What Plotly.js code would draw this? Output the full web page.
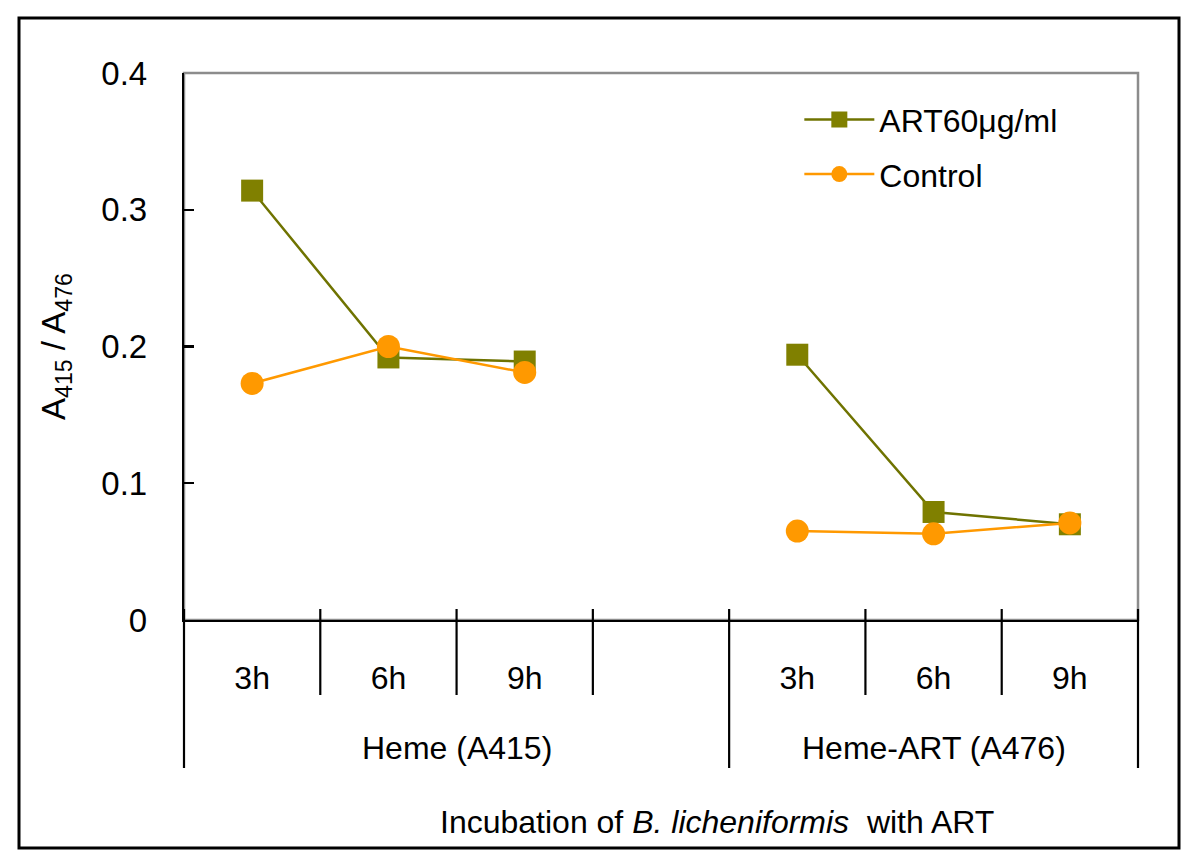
<!DOCTYPE html>
<html>
<head>
<meta charset="utf-8">
<script src="https://cdn.plot.ly/plotly-3.0.1.min.js"></script>
<style>html,body{margin:0;padding:0;background:#fff;}#chart{width:1200px;height:868px;}</style>
</head>
<body>
<div id="chart"></div>
<script>
// ---- data ----
const groups = ["Heme (A415)", "Heme (A415)", "Heme (A415)", "Heme (A415)",
                "Heme-ART (A476)", "Heme-ART (A476)", "Heme-ART (A476)"];
const times = ["3h", "6h", "9h", "", "3h", "6h", "9h"];
const artValues = [0.314, 0.192, 0.189, null, 0.194, 0.079, 0.070];
const controlValues = [0.173, 0.200, 0.181, null, 0.065, 0.063, 0.071];
const seriesNames = ["ART60μg/ml", "Control"];
const yTicks = [0, 0.1, 0.2, 0.3, 0.4];
const yTickText = ["0", "0.1", "0.2", "0.3", "0.4"];
const xTitle = "Incubation of <i>B. licheniformis</i>  with ART";
const yTitle = "A<sub>415</sub> / A<sub>476</sub>";

const FONT = "Liberation Sans, Arial, sans-serif";
const nCats = times.length;
const catKeys = times.map((t, i) => groups[i] + " | " + (t || "blank") + " #" + i);
const pxH = 868 - 73 - 248; // plot height in px
function py(px) { return px / pxH; } // px offset -> paper units (vertical)

// group spans
const groupStarts = [0];
for (let i = 1; i < nCats; i++) if (groups[i] !== groups[i - 1]) groupStarts.push(i);
groupStarts.push(nCats);

const shapes = [];
// plot-area frame (gray top/right)
shapes.push({type: "rect", xref: "paper", yref: "paper", x0: 0, x1: 1, y0: 0, y1: 1,
  line: {color: "#8c8c8c", width: 2.5}, layer: "below"});
// category boundary ticks & group dividers
for (let i = 0; i <= nCats; i++) {
  const isDiv = groupStarts.includes(i);
  shapes.push({type: "line", xref: "paper", yref: "paper",
    x0: i / nCats, x1: i / nCats, y0: py(11), y1: isDiv ? -py(148) : -py(75),
    line: {color: "#000", width: 2.2}});
}
// outer frame
shapes.push({type: "rect", xref: "paper", yref: "paper",
  x0: (19 - 184) / 954, x1: (1179 - 184) / 954, y0: -py(848 - 620), y1: py(620 - 18),
  line: {color: "#000", width: 3}});

const annotations = [];
for (let g = 0; g < groupStarts.length - 1; g++) {
  const a = groupStarts[g], b = groupStarts[g + 1];
  annotations.push({xref: "x", yref: "paper", x: (a + b - 1) / 2, y: -py(128),
    xanchor: "center", yanchor: "middle", showarrow: false,
    text: groups[a], font: {size: 32, family: FONT}});
}
annotations.push({xref: "paper", yref: "paper", x: (717 - 184) / 954, y: -py(822 - 620),
  xanchor: "center", yanchor: "middle", showarrow: false,
  text: xTitle, font: {size: 32, family: FONT}});

const traces = [
  {x: catKeys, y: artValues, name: seriesNames[0], type: "scatter", mode: "lines+markers",
   legendgroup: "a",
   line: {color: "#6f7300", width: 2.5},
   marker: {symbol: "square", size: 22, color: "#808000"}},
  {x: catKeys, y: controlValues, name: seriesNames[1], type: "scatter", mode: "lines+markers",
   legendgroup: "b",
   line: {color: "#ff9900", width: 2.5},
   marker: {symbol: "circle", size: 23, color: "#ff9900"}}
];

const layout = {
  width: 1200, height: 868,
  margin: {l: 184, r: 62, t: 73, b: 248},
  paper_bgcolor: "#fff", plot_bgcolor: "#fff",
  font: {family: FONT, color: "#000", size: 32},
  showlegend: true,
  legend: {x: 0.645, y: 0.965, xanchor: "left", yanchor: "top", bgcolor: "rgba(0,0,0,0)",
    font: {size: 32, family: FONT}, itemwidth: 70, tracegroupgap: 10, traceorder: "grouped"},
  xaxis: {type: "category", categoryorder: "array", categoryarray: catKeys,
    tickvals: catKeys, ticktext: times, range: [-0.5, nCats - 0.5],
    showgrid: false, zeroline: false,
    showline: true, linecolor: "#000", linewidth: 2.2,
    ticks: "", ticklabelstandoff: 28,
    tickfont: {size: 32, family: FONT}, fixedrange: true},
  yaxis: {range: [0, 0.4], tickvals: yTicks, ticktext: yTickText, showgrid: false, zeroline: false,
    showline: true, linecolor: "#000", linewidth: 2.2,
    ticks: "inside", ticklen: 10, tickwidth: 2.2, tickcolor: "#000",
    ticklabelstandoff: 28, tickfont: {size: 33, family: FONT},
    title: {text: yTitle, font: {size: 33, family: FONT}, standoff: 26},
    fixedrange: true},
  shapes: shapes,
  annotations: annotations
};

Plotly.newPlot("chart", traces, layout, {displayModeBar: false, staticPlot: true});
</script>
</body>
</html>
